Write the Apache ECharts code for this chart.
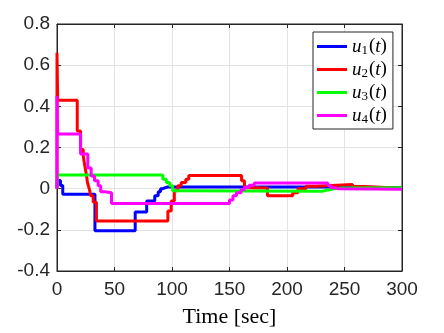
<!DOCTYPE html>
<html>
<head>
<meta charset="utf-8">
<script src="https://cdn.jsdelivr.net/npm/echarts@6/dist/echarts.min.js"></script>
<style>
    html,body{margin:0;padding:0;background:#fff;}
    #myChart{width:444px;height:333px;}
</style>
</head>
<body>
<div id="myChart"></div>
<script>
// 时间轴刻度
var xTicks = [0, 50, 100, 150, 200, 250, 300];
var yTicks = [-0.4, -0.2, 0, 0.2, 0.4, 0.6, 0.8];

// u1(t)
var u1T = [0, 0, 3, 5, 33, 68, 78, 85, 88, 90, 92, 96, 250, 300];
var u1V = [0, 0.04, 0.015, -0.027, -0.205, -0.113, -0.06, -0.035, -0.015, 0, 0.008, 0.008, 0.005, 0.005];

// u2(t)
var u2T = [0, 0, 0.6, 17.6, 20.5, 22.8, 24.2, 25.5, 26.5, 28, 29.4, 31.5, 34.3, 96.4, 99.3, 102, 105, 108, 112, 114.6, 160.5, 163, 165.5, 183, 205, 209.5, 216.5, 225, 257, 267, 300];
var u2V = [0, 0.66, 0.43, 0.28, 0.19, 0.16, 0.11, 0.07, 0.03, 0, -0.035, -0.066, -0.157, -0.108, -0.06, -0.01, 0.014, 0.03, 0.046, 0.064, 0.038, 0.005, 0.003, -0.035, -0.02, 0, 0.012, 0.02, 0.01, 0.002, 0.002];

// u3(t)
var u3T = [0, 0, 92, 95, 98, 100.5, 105, 231, 236, 241, 248, 300];
var u3V = [0, 0.066, 0.046, 0.03, 0.014, -0.01, -0.012, -0.006, -0.001, 0.003, 0.004, 0.004];

// u4(t)
var u4T = [0, 0, 0.6, 20.5, 26.8, 29.7, 32.6, 35.8, 38, 41.6, 47.4, 150, 153, 156, 160, 163, 167, 171.5, 235.5, 238, 241, 245, 300];
var u4V = [0, 0.45, 0.266, 0.168, 0.10, 0.062, 0.038, 0.014, -0.015, -0.02, -0.072, -0.055, -0.035, -0.02, -0.005, 0.006, 0.017, 0.027, 0.015, 0.005, 0, -0.003, -0.003];

var seriesNames = ['u1', 'u2', 'u3', 'u4'];
var seriesColors = ['#0000ff', '#ff0000', '#00ff00', '#ff00ff'];

function toPairs(t, v){
    var arr = [];
    for(var i=0;i<t.length;i++){
        arr.push([t[i], v[i]]);
    }
    return arr;
}

var allData = [toPairs(u1T,u1V), toPairs(u2T,u2V), toPairs(u3T,u3V), toPairs(u4T,u4V)];

var myChart = echarts.init(document.getElementById('myChart'), null, {renderer:'canvas'});

var axisColor = '#262626';
var labelFont = 'Liberation Sans';

var series = [];
for(var k=0;k<4;k++){
    series.push({
        name: seriesNames[k],
        type: 'line',
        step: 'end',
        symbol: 'none',
        animation: false,
        lineStyle: {color: seriesColors[k], width: 3},
        itemStyle: {color: seriesColors[k]},
        data: allData[k]
    });
}

var option = {
    backgroundColor: '#fff',
    animation: false,
    grid: {left: 57, right: 42, top: 24, bottom: 62, show: true, borderColor: axisColor, borderWidth: 1},
    legend: {
        orient: 'vertical',
        left: 313,
        top: 32,
        width: 80,
        padding: [4, 6, 3, 4],
        itemGap: 2,
        itemWidth: 30,
        itemHeight: 3,
        icon: 'rect',
        backgroundColor: '#fff',
        borderColor: axisColor,
        borderWidth: 1,
        data: seriesNames,
        formatter: function(name){
            return '{i|u}{s|' + name.substring(1) + '}{n|(}{i|t}{n|)}';
        },
        textStyle: {
            rich: {
                i: {fontFamily: 'Liberation Serif', fontStyle: 'italic', fontSize: 19, color: '#000', lineHeight: 16},
                n: {fontFamily: 'Liberation Serif', fontSize: 19, color: '#000', lineHeight: 16},
                s: {fontFamily: 'Liberation Serif', fontSize: 13, color: '#000', padding: [8, 1, 0, 0], lineHeight: 10}
            }
        }
    },
    xAxis: [{
        type: 'value',
        min: xTicks[0],
        max: xTicks[xTicks.length-1],
        interval: 50,
        name: 'Time [sec]',
        nameLocation: 'middle',
        nameGap: 35,
        nameTextStyle: {fontFamily: 'Liberation Serif', fontSize: 22, color: '#000'},
        axisLine: {show: true, onZero: false, lineStyle: {color: axisColor}},
        axisTick: {show: true, inside: true, length: 4, lineStyle: {color: axisColor}},
        axisLabel: {fontFamily: labelFont, fontSize: 19, color: axisColor, margin: 9},
        splitLine: {show: true, lineStyle: {color: '#e3e3e3', width: 1}}
    }, {
        type: 'value',
        position: 'top',
        min: xTicks[0],
        max: xTicks[xTicks.length-1],
        interval: 50,
        axisLine: {show: true, onZero: false, lineStyle: {color: axisColor}},
        axisTick: {show: true, inside: true, length: 4, lineStyle: {color: axisColor}},
        axisLabel: {show: false},
        splitLine: {show: false}
    }],
    yAxis: [{
        type: 'value',
        min: yTicks[0],
        max: yTicks[yTicks.length-1],
        interval: 0.2,
        axisLine: {show: true, onZero: false, lineStyle: {color: axisColor}},
        axisTick: {show: true, inside: true, length: 4, lineStyle: {color: axisColor}},
        axisLabel: {
            fontFamily: labelFont, fontSize: 19, color: axisColor, margin: 7,
            formatter: function(v){ return (Math.round(v*10)/10).toString(); }
        },
        splitLine: {show: true, lineStyle: {color: '#e3e3e3', width: 1}}
    }, {
        type: 'value',
        position: 'right',
        min: yTicks[0],
        max: yTicks[yTicks.length-1],
        interval: 0.2,
        axisLine: {show: true, onZero: false, lineStyle: {color: axisColor}},
        axisTick: {show: true, inside: true, length: 4, lineStyle: {color: axisColor}},
        axisLabel: {show: false},
        splitLine: {show: false}
    }],
    series: series
};

myChart.setOption(option);
</script>
</body>
</html>
